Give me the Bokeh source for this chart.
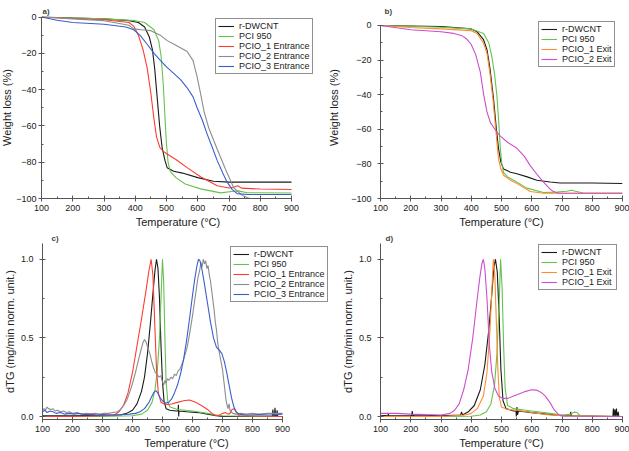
from bokeh.plotting import figure
from bokeh.layouts import column, row
from bokeh.models import Range1d, FixedTicker, NumeralTickFormatter
from bokeh.embed import file_html
from bokeh.resources import INLINE

FONT = "Liberation Sans"

# ---------------- data ----------------
T_TICKS = [100, 200, 300, 400, 500, 600, 700, 800, 900]
WL_TICKS = [-100, -80, -60, -40, -20, 0]
DTG_TICKS = [0.0, 0.5, 1.0]

# Panel a (TGA, entrance samples)
a_dwcnt_T = [100, 200, 300, 380, 410, 430, 445, 455, 462, 470, 478, 486, 495, 502, 523, 551, 600, 650, 700, 800, 900]
a_dwcnt_W = [0, -0.5, -1, -2, -3, -5.5, -11, -18, -28, -44, -60, -72, -79, -83, -85, -86, -88.5, -90.5, -91, -91, -91]
a_pci_T = [100, 200, 300, 400, 430, 460, 475, 483, 490, 495, 500, 505, 512, 530, 560, 609, 673, 715, 730, 758, 900]
a_pci_W = [0, -0.5, -1, -2, -3, -7, -13, -22, -38, -55, -70, -80, -85, -88.5, -92, -94.7, -96.9, -96, -95.8, -96.8, -97]
a_p1_T = [100, 200, 300, 380, 395, 410, 425, 438, 450, 459, 468, 479, 490, 502, 530, 566, 609, 662, 700, 715, 728, 740, 800, 900]
a_p1_W = [0, -0.8, -1.5, -3, -5, -10, -18, -28, -42, -55, -66, -72, -74, -75.5, -78.5, -83, -88, -93, -94.2, -93.8, -93, -94.3, -94.8, -95]
a_p2_T = [100, 200, 300, 380, 395, 420, 450, 480, 502, 530, 566, 585, 598, 610, 620, 635, 651, 670, 694, 715, 740, 758, 775, 800, 900]
a_p2_W = [0, -1, -2, -4.5, -6.5, -7, -7.5, -10, -13, -15.5, -19, -24, -33, -43, -52, -61, -68, -76, -86, -94, -98, -99.5, -100.5, -101, -101]
a_p3_T = [100, 150, 200, 300, 370, 395, 415, 438, 460, 481, 500, 523, 545, 566, 585, 598, 615, 630, 647, 662, 680, 694, 710, 726, 760, 900]
a_p3_W = [0, -1.8, -3, -4, -5.5, -7, -10, -15, -20, -24, -27.5, -31, -34.5, -39, -44, -50, -57, -64.5, -72, -79, -86, -91, -95, -97.3, -97.8, -97.8]

# Panel b (TGA, exit samples)
b_dwcnt_T = [100, 200, 300, 400, 419, 440, 452, 462, 474, 482, 490, 498, 507, 530, 551, 585, 617, 661, 694, 800, 900]
b_dwcnt_W = [0, -0.3, -0.6, -2, -3.6, -8, -14, -25, -43, -58, -71, -79, -83, -84.8, -85.7, -87.5, -89.5, -90.5, -91, -91, -91.3]
b_pci_T = [100, 200, 300, 400, 441, 458, 468, 477, 485, 491, 496, 501, 507, 520, 540, 584, 639, 683, 715, 732, 745, 770, 900]
b_pci_W = [0, -0.5, -1, -2, -4.6, -10, -18, -28, -41, -56, -71, -80, -85, -87.5, -89.5, -94, -96.5, -96.3, -95.8, -95.2, -95.8, -96.8, -97]
b_p1_T = [100, 200, 300, 400, 419, 440, 452, 462, 472, 481, 490, 498, 507, 530, 551, 595, 640, 700, 900]
b_p1_W = [0, -1.2, -2, -3, -4.6, -10, -16, -28, -43, -60, -77, -83, -86.6, -89.5, -91.4, -96, -97, -97, -97]
b_p2_T = [100, 200, 300, 342, 370, 386, 400, 415, 430, 441, 452, 463, 478, 496, 520, 551, 575, 595, 617, 639, 660, 672, 690, 705, 900]
b_p2_W = [0, -2.5, -3.6, -4.6, -6, -8, -11, -17, -27, -40, -50, -56, -60, -64, -67.5, -71, -75.5, -81, -86, -90.5, -94.5, -96, -97, -97, -97]

# Panel c (dTG, entrance samples)
c_dwcnt_T = [100, 200, 300, 360, 380, 400, 415, 430, 440, 450, 460, 468, 475, 480, 485, 490, 495, 500, 505, 512, 525, 545, 552, 553, 554, 555, 580, 620, 650, 680, 700, 866, 868, 870, 873, 875, 877, 880, 882, 884, 900]
c_dwcnt_D = [0.005, 0.005, 0.008, 0.01, 0.02, 0.04, 0.08, 0.16, 0.25, 0.4, 0.6, 0.78, 0.93, 1.0, 0.94, 0.75, 0.45, 0.22, 0.1, 0.05, 0.04, 0.035, 0.035, 0.075, 0.0, 0.035, 0.03, 0.025, 0.015, 0.005, 0.0, 0.0, 0.045, 0.0, 0.0, 0.055, 0.0, 0.0, 0.04, 0.0, 0.0]
c_pci_T = [100, 300, 400, 430, 450, 465, 475, 483, 490, 495, 500, 504, 508, 512, 518, 525, 550, 600, 650, 680, 700, 900]
c_pci_D = [0.0, 0.0, 0.005, 0.015, 0.04, 0.09, 0.17, 0.3, 0.5, 0.75, 1.0, 0.85, 0.5, 0.22, 0.09, 0.06, 0.045, 0.035, 0.02, 0.01, 0.005, 0.0]
c_p1_T = [100, 200, 300, 340, 355, 370, 385, 400, 415, 430, 445, 455, 462, 468, 474, 480, 486, 495, 510, 530, 550, 570, 590, 610, 630, 650, 665, 677, 690, 700, 710, 718, 725, 732, 738, 745, 755, 900]
c_p1_D = [0.0, 0.0, 0.005, 0.01, 0.03, 0.07, 0.15, 0.28, 0.45, 0.62, 0.8, 0.93, 1.0, 0.9, 0.6, 0.3, 0.15, 0.09, 0.075, 0.08, 0.09, 0.1, 0.105, 0.09, 0.07, 0.045, 0.02, 0.005, 0.01, 0.02, 0.025, 0.015, 0.02, 0.045, 0.05, 0.03, 0.005, 0.0]
c_p2_T = [100, 105, 110, 115, 120, 128, 135, 142, 150, 160, 170, 180, 190, 200, 215, 230, 245, 260, 275, 290, 305, 320, 335, 350, 360, 370, 380, 390, 400, 410, 420, 428, 435, 440, 446, 452, 458, 464, 470, 476, 482, 488, 494, 500, 504, 508, 512, 516, 522, 528, 534, 540, 546, 552, 558, 564, 570, 576, 582, 588, 594, 600, 606, 612, 618, 624, 628, 632, 636, 640, 644, 648, 652, 656, 660, 664, 668, 672, 676, 680, 684, 688, 692, 696, 700, 706, 712, 718, 722, 725, 728, 735, 745, 760, 780, 800, 820, 850, 880, 900]
c_p2_D = [0.04, 0.05, 0.04, 0.06, 0.05, 0.045, 0.05, 0.035, 0.04, 0.03, 0.035, 0.025, 0.03, 0.02, 0.025, 0.015, 0.02, 0.015, 0.02, 0.015, 0.02, 0.02, 0.025, 0.03, 0.045, 0.07, 0.1, 0.15, 0.21, 0.28, 0.36, 0.42, 0.47, 0.49, 0.47, 0.43, 0.4, 0.35, 0.31, 0.28, 0.27, 0.25, 0.26, 0.22, 0.2, 0.23, 0.21, 0.24, 0.23, 0.25, 0.24, 0.27, 0.26, 0.29, 0.3, 0.33, 0.36, 0.4, 0.44, 0.5, 0.57, 0.64, 0.72, 0.8, 0.88, 0.93, 0.98, 0.95, 1.0, 0.97, 0.99, 0.94, 0.96, 0.9, 0.86, 0.8, 0.74, 0.68, 0.6, 0.55, 0.47, 0.42, 0.38, 0.34, 0.3, 0.2, 0.1, 0.05, 0.08, 0.04, 0.03, 0.02, 0.015, 0.02, 0.015, 0.02, 0.015, 0.02, 0.02, 0.02]
c_p3_T = [100, 108, 115, 125, 135, 145, 160, 175, 190, 205, 220, 240, 260, 280, 300, 330, 360, 390, 410, 425, 440, 455, 465, 472, 478, 484, 492, 500, 510, 520, 530, 540, 550, 560, 570, 580, 590, 600, 608, 615, 620, 625, 632, 640, 650, 660, 670, 680, 690, 698, 706, 714, 722, 730, 738, 746, 755, 780, 820, 860, 900]
c_p3_D = [0.03, 0.04, 0.025, 0.035, 0.03, 0.02, 0.025, 0.015, 0.02, 0.015, 0.02, 0.012, 0.015, 0.01, 0.012, 0.01, 0.012, 0.015, 0.02, 0.03, 0.05, 0.09, 0.13, 0.155, 0.165, 0.15, 0.12, 0.1, 0.085, 0.09, 0.11, 0.15, 0.2, 0.27, 0.36, 0.48, 0.62, 0.77, 0.88, 0.96, 1.0, 0.99, 0.93, 0.84, 0.72, 0.6, 0.5, 0.44, 0.42, 0.4, 0.35, 0.28, 0.2, 0.12, 0.06, 0.03, 0.015, 0.01, 0.012, 0.01, 0.015]

# Panel d (dTG, exit samples)
d_dwcnt_T = [100, 125, 126, 127, 203, 205, 207, 215, 300, 365, 368, 371, 390, 410, 430, 445, 458, 468, 475, 480, 486, 492, 498, 505, 515, 540, 548, 549, 551, 553, 556, 600, 650, 700, 727, 729, 731, 868, 870, 872, 875, 877, 880, 882, 886, 888, 900]
d_dwcnt_D = [0.005, 0.008, 0.02, 0.005, 0.005, 0.035, 0.005, 0.01, 0.005, 0.01, 0.03, 0.01, 0.03, 0.07, 0.17, 0.33, 0.55, 0.78, 0.95, 1.0, 0.92, 0.65, 0.3, 0.1, 0.05, 0.035, 0.035, 0.0, 0.06, 0.01, 0.035, 0.025, 0.015, 0.005, 0.005, 0.03, 0.005, 0.0, 0.05, 0.0, 0.045, 0.0, 0.05, 0.0, 0.03, 0.0, 0.0]
d_pci_T = [100, 300, 400, 430, 450, 465, 477, 485, 492, 497, 502, 507, 512, 520, 540, 580, 620, 660, 700, 730, 740, 750, 760, 900]
d_pci_D = [0.0, 0.0, 0.002, 0.01, 0.03, 0.08, 0.2, 0.4, 0.7, 1.0, 0.82, 0.45, 0.18, 0.07, 0.05, 0.04, 0.03, 0.02, 0.01, 0.015, 0.028, 0.025, 0.005, 0.0]
d_p1_T = [100, 300, 380, 400, 420, 440, 452, 462, 468, 473, 478, 483, 488, 493, 500, 520, 550, 600, 650, 700, 900]
d_p1_D = [0.0, 0.0, 0.01, 0.02, 0.05, 0.13, 0.28, 0.55, 0.8, 1.0, 0.9, 0.6, 0.3, 0.12, 0.06, 0.045, 0.04, 0.025, 0.012, 0.005, 0.0]
d_p2_T = [100, 150, 200, 250, 300, 330, 345, 360, 375, 390, 405, 418, 428, 435, 440, 445, 452, 460, 468, 478, 490, 505, 520, 540, 560, 580, 600, 615, 630, 645, 660, 675, 690, 710, 900]
d_p2_D = [0.02, 0.02, 0.015, 0.012, 0.01, 0.02, 0.04, 0.08, 0.17, 0.3, 0.5, 0.72, 0.88, 0.97, 1.0, 0.94, 0.75, 0.45, 0.28, 0.18, 0.13, 0.115, 0.115, 0.13, 0.145, 0.16, 0.17, 0.168, 0.155, 0.13, 0.09, 0.04, 0.01, 0.003, 0.0]

BLACK = "#1a1a1a"
GREEN = "#66c24f"
RED = "#ff3b30"
GRAY = "#8c8c8c"
BLUE = "#3a5fcd"
ORANGE = "#ff8c2e"
MAGENTA = "#cc4fcc"


def make_fig(w, h, left, right, top, bottom, xr, yr, ybounds, label, title_off):
    p = figure(width=w, height=h, output_backend="svg", toolbar_location=None,
               x_range=Range1d(*xr), y_range=Range1d(*yr),
               min_border_left=left, min_border_right=right,
               min_border_top=top, min_border_bottom=bottom)
    p.outline_line_color = None
    p.xgrid.visible = False
    p.ygrid.visible = False
    p.title.text = label
    p.title.text_font = FONT
    p.title.text_font_size = "8px"
    p.title.text_font_style = "bold"
    p.title.offset = title_off
    p.title.standoff = 2
    for ax in (p.xaxis[0], p.yaxis[0]):
        ax.axis_line_color = "#555555"
        ax.major_tick_line_color = "#555555"
        ax.minor_tick_line_color = "#555555"
        ax.major_tick_in = 3
        ax.major_tick_out = 3
        ax.minor_tick_in = 2
        ax.minor_tick_out = 0
        ax.major_label_text_font = FONT
        ax.major_label_text_font_size = "9px"
        ax.major_label_text_color = "#222222"
        ax.axis_label_text_font = FONT
        ax.axis_label_text_font_size = "11px"
        ax.axis_label_text_font_style = "normal"
        ax.axis_label_text_color = "#222222"
    p.xaxis[0].ticker = FixedTicker(ticks=T_TICKS, minor_ticks=[t + 50 for t in T_TICKS[:-1]])
    p.xaxis[0].bounds = (T_TICKS[0], T_TICKS[-1])
    p.yaxis[0].bounds = ybounds
    p.xaxis[0].axis_label = "Temperature (°C)"
    p.xaxis[0].major_label_standoff = 3
    p.xaxis[0].axis_label_standoff = 2
    p.yaxis[0].major_label_standoff = 6
    p.yaxis[0].axis_label_standoff = 2
    return p


def style_legend(p, loc):
    lg = p.legend[0]
    lg.location = loc
    lg.border_line_color = "#222222"
    lg.border_line_width = 1
    lg.background_fill_alpha = 1
    lg.padding = 2
    lg.spacing = 0
    lg.margin = 0
    lg.label_height = 10
    lg.glyph_height = 10
    lg.glyph_width = 16
    lg.label_standoff = 5
    lg.label_text_font = FONT
    lg.label_text_font_size = "9px"
    lg.label_text_color = "#222222"


LW = 1.1

# ---- a ----
pa = make_fig(317, 230, 44, 0, 16, 31, (100, 973.6), (-100, 0.3), (-100, 0), "a)", 1)
pa.margin = (0, 0, 0, -3)
pa.yaxis[0].major_label_standoff = 2
pa.yaxis[0].axis_label_standoff = 0
pa.yaxis[0].ticker = FixedTicker(ticks=WL_TICKS, minor_ticks=[-90, -70, -50, -30, -10])
pa.yaxis[0].axis_label = "Weight loss (%)"
pa.line(a_dwcnt_T, a_dwcnt_W, color=BLACK, line_width=LW, legend_label="r-DWCNT")
pa.line(a_pci_T, a_pci_W, color=GREEN, line_width=LW, legend_label="PCI 950")
pa.line(a_p1_T, a_p1_W, color=RED, line_width=LW, legend_label="PCIO_1 Entrance")
pa.line(a_p2_T, a_p2_W, color=GRAY, line_width=LW, legend_label="PCIO_2 Entrance")
pa.line(a_p3_T, a_p3_W, color=BLUE, line_width=LW, legend_label="PCIO_3 Entrance")
style_legend(pa, (174, 124))

# ---- b ----
pb = make_fig(315, 230, 66, 7, 16, 31, (100, 900), (-100, 5.17), (-100, 0), "b)", 4)
pb.yaxis[0].ticker = FixedTicker(ticks=WL_TICKS, minor_ticks=[-90, -70, -50, -30, -10])
pb.yaxis[0].axis_label = "Weight loss (%)"
pb.yaxis[0].axis_label_standoff = 8
pb.line(b_dwcnt_T, b_dwcnt_W, color=BLACK, line_width=LW, legend_label="r-DWCNT")
pb.line(b_pci_T, b_pci_W, color=GREEN, line_width=LW, legend_label="PCI 950")
pb.line(b_p1_T, b_p1_W, color=ORANGE, line_width=LW, legend_label="PCIO_1 Exit")
pb.line(b_p2_T, b_p2_W, color=MAGENTA, line_width=LW, legend_label="PCIO_2 Exit")
style_legend(pb, (158, 131))

# ---- c ----
pc = make_fig(330, 221, 42, 0, 12, 32, (100, 1060), (-0.019, 1.1), (-0.019, 1.1), "c)", 9)
pc.yaxis[0].ticker = FixedTicker(ticks=DTG_TICKS, minor_ticks=[0.25, 0.75])
pc.yaxis[0].formatter = NumeralTickFormatter(format="0.0")
pc.yaxis[0].axis_label = "dTG (mg/min norm. unit.)"
pc.line(c_dwcnt_T, c_dwcnt_D, color=BLACK, line_width=LW, legend_label="r-DWCNT")
pc.line(c_pci_T, c_pci_D, color=GREEN, line_width=LW, legend_label="PCI 950")
pc.line(c_p1_T, c_p1_D, color=RED, line_width=LW, legend_label="PCIO_1 Entrance")
pc.line(c_p2_T, c_p2_D, color=GRAY, line_width=LW, legend_label="PCIO_2 Entrance")
pc.line(c_p3_T, c_p3_D, color=BLUE, line_width=LW, legend_label="PCIO_3 Entrance")
style_legend(pc, (188, 117))

# ---- d ----
pd_ = make_fig(299, 221, 50, 7, 12, 32, (100, 900), (-0.019, 1.1), (-0.019, 1.1), "d)", 5)
pd_.yaxis[0].ticker = FixedTicker(ticks=DTG_TICKS, minor_ticks=[0.25, 0.75])
pd_.yaxis[0].formatter = NumeralTickFormatter(format="0.0")
pd_.yaxis[0].axis_label = "dTG (mg/min norm. unit.)"
pd_.line(d_dwcnt_T, d_dwcnt_D, color=BLACK, line_width=LW, legend_label="r-DWCNT")
pd_.line(d_pci_T, d_pci_D, color=GREEN, line_width=LW, legend_label="PCI 950")
pd_.line(d_p1_T, d_p1_D, color=ORANGE, line_width=LW, legend_label="PCIO_1 Exit")
pd_.line(d_p2_T, d_p2_D, color=MAGENTA, line_width=LW, legend_label="PCIO_1 Exit ")
style_legend(pd_, (158, 129))

layout = column(row(pa, pb, spacing=0), row(pc, pd_, spacing=0), spacing=0)
open("out.html", "w").write(file_html(layout, INLINE))
